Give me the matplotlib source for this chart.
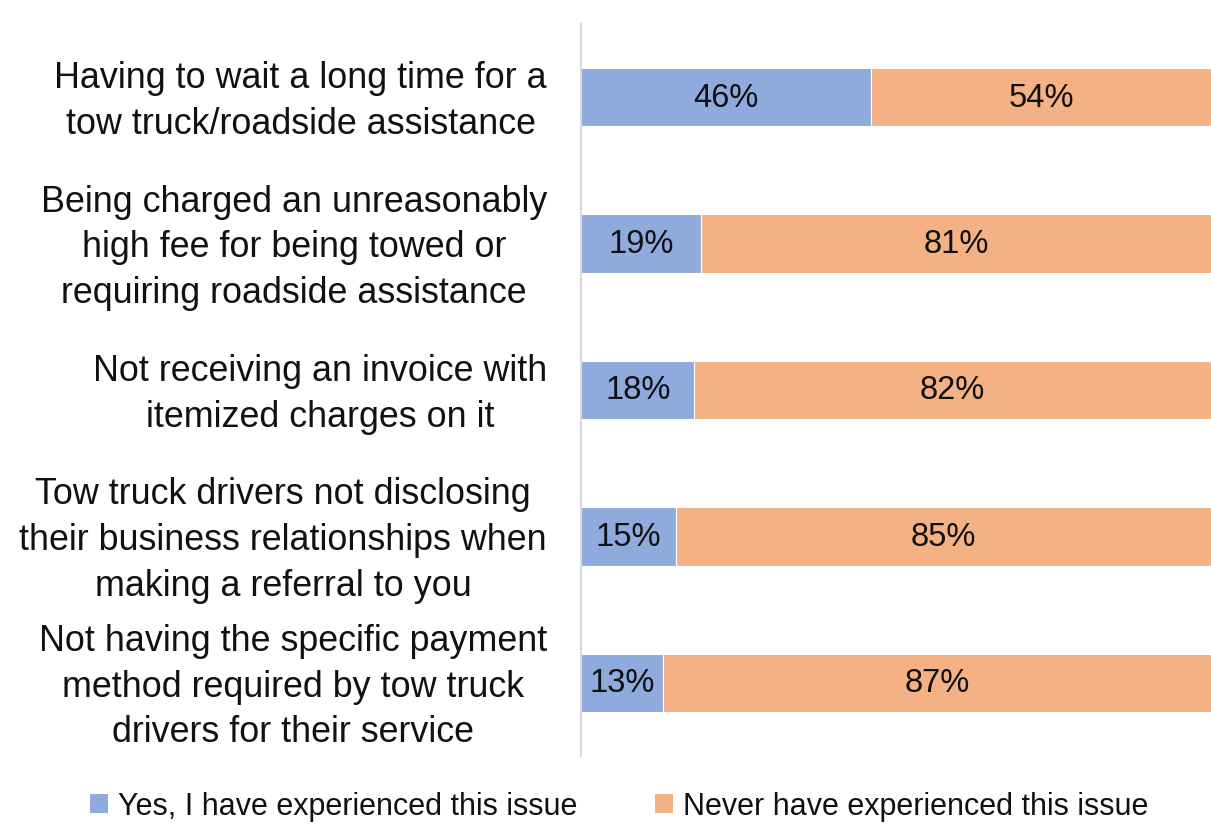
import matplotlib
matplotlib.use("Agg")
import matplotlib.pyplot as plt
from matplotlib.patches import Patch
from matplotlib.transforms import ScaledTranslation

plt.rcParams['font.family'] = ['Liberation Sans', 'DejaVu Sans']

categories = [
    "Having to wait a long time for a\ntow truck/roadside assistance",
    "Being charged an unreasonably\nhigh fee for being towed or\nrequiring roadside assistance",
    "Not receiving an invoice with\nitemized charges on it",
    "Tow truck drivers not disclosing\ntheir business relationships when\nmaking a referral to you",
    "Not having the specific payment\nmethod required by tow truck\ndrivers for their service",
]
yes_vals = [46, 19, 18, 15, 13]
never_vals = [54, 81, 82, 85, 87]
series_names = ["Yes, I have experienced this issue", "Never have experienced this issue"]
colors = ["#8FAADC", "#F4B183"]

W, H = 1211, 837
fig = plt.figure(figsize=(W / 100, H / 100), dpi=100)
ax = fig.add_axes([581 / W, 1 - 757 / H, 1 - 581 / W, (757 - 25) / H])

ypos = list(range(len(categories)))
ax.barh(ypos, yes_vals, height=0.40, color=colors[0], edgecolor='white', linewidth=0.8)
ax.barh(ypos, never_vals, left=yes_vals, height=0.40, color=colors[1], edgecolor='white', linewidth=0.8)

fs_val = 23.5
for i, (a, b) in enumerate(zip(yes_vals, never_vals)):
    ax.text(a / 2, i, f"{a}%", ha='center', va='center', fontsize=fs_val, color='#111111')
    ax.text(a + b / 2, i, f"{b}%", ha='center', va='center', fontsize=fs_val, color='#111111')

ax.set_xlim(0, 100)
ax.set_ylim(len(categories) - 0.5, -0.5)
ax.set_yticks(ypos)
ax.set_yticklabels(categories, fontsize=25.8, multialignment='center', linespacing=1.40,
                   color='#111111')
ax.tick_params(axis='y', length=0, pad=24.5)
shift = ScaledTranslation(0, 6 / 100, fig.dpi_scale_trans)
for lbl in ax.get_yticklabels():
    lbl.set_transform(lbl.get_transform() + shift)
ax.set_xticks([])
for s in ['top', 'right', 'bottom']:
    ax.spines[s].set_visible(False)
ax.spines['left'].set_color('#D9D9D9')
ax.spines['left'].set_linewidth(1.5)

handles = [Patch(facecolor=c, edgecolor='none') for c in colors]
leg = fig.legend(handles, series_names, loc='center', bbox_to_anchor=(619 / W, 1 - 807 / H),
                 ncol=2, frameon=False, fontsize=22, handlelength=0.59, handleheight=0.59,
                 handletextpad=0.33, columnspacing=2.55, borderpad=0)
for t in leg.get_texts():
    t.set_color('#111111')

fig.savefig("out.png", dpi=100)
